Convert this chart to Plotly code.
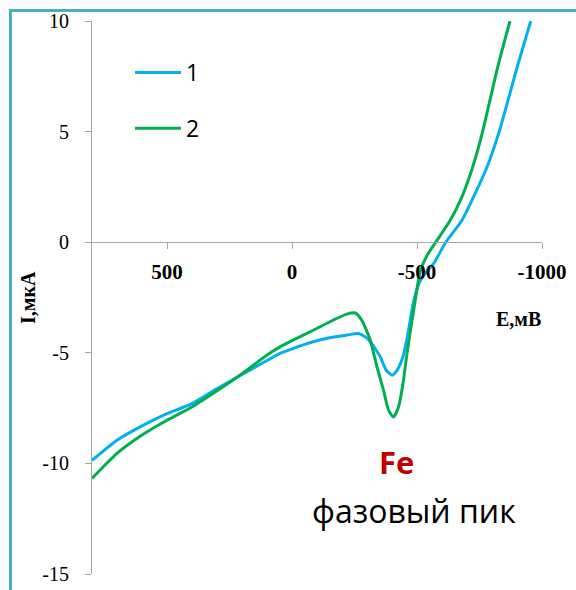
import plotly.graph_objects as go

# ---- data ----
E1 = [800, 700, 600, 500, 400, 300, 200, 100, 48, 0, -85, -160, -219, -266, -293, -313, -335, -353,
      -377, -400, -420, -444, -464, -486, -513, -540, -567, -615, -680, -720, -780, -827, -901, -955]
I1 = [-9.86, -8.95, -8.3, -7.75, -7.3, -6.62, -5.98, -5.35, -5.03, -4.82, -4.5, -4.3, -4.2, -4.13, -4.28,
      -4.5, -4.85, -5.18, -5.79, -6.01, -5.79, -5.18, -4.13, -2.7, -1.75, -1.3, -0.96, 0.0, 0.99, 1.9,
      3.4, 4.93, 7.93, 10.0]

E2 = [800, 700, 600, 500, 400, 300, 200, 100, 48, 0, -85, -160, -219, -253, -279, -313, -340, -366,
      -386, -406, -426, -444, -460, -476, -493, -513, -540, -575, -633, -674, -720, -761, -823, -872]
I2 = [-10.68, -9.55, -8.72, -8.05, -7.45, -6.72, -5.95, -5.1, -4.73, -4.45, -3.98, -3.55, -3.25, -3.2,
      -3.53, -4.43, -5.64, -6.69, -7.59, -7.9, -7.45, -6.39, -5.03, -3.83, -2.62, -1.3, -0.6, 0.0, 0.99,
      1.9, 3.3, 4.93, 7.93, 10.0]

series_names = ["1", "2"]
series_colors = ["#00B0F0", "#00B050"]
x_ticks = [500, 0, -500, -1000]
y_ticks = [10, 5, 0, -5, -10, -15]

# ---- layout geometry ----
W, H = 576, 590
L, R, T, B = 92, 34, 21, 16
pw, ph = W - L - R, H - T - B


def px(xp):
    return (xp - L) / pw


def py(yp):
    return (H - B - yp) / ph


SERIF = "Times New Roman"

fig = go.Figure()
for E, I, name, col in [(E1, I1, series_names[0], series_colors[0]),
                        (E2, I2, series_names[1], series_colors[1])]:
    fig.add_trace(go.Scatter(x=E, y=I, mode="lines", name=name, legendgroup=name,
                             line=dict(color=col, width=3, shape="spline", smoothing=0.6)))

axis_col = "#A6A6A6"
fig.update_layout(
    template="none",
    width=W, height=H,
    font=dict(family=SERIF, size=20, color="black"),
    margin=dict(l=L, r=R, t=T, b=B, autoexpand=False),
    paper_bgcolor="white", plot_bgcolor="white",
    showlegend=True,
    legend=dict(x=px(130), y=py(51), xanchor="left", yanchor="top",
                font=dict(family="Open Sans", size=23, color="black"),
                itemwidth=46, tracegroupgap=23, bgcolor="rgba(0,0,0,0)"),
    xaxis=dict(range=[800, -1000], tickvals=x_ticks, ticktext=[str(v) for v in x_ticks],
               showgrid=False, zeroline=False, showline=True, linecolor=axis_col, linewidth=1,
               ticks="outside", ticklen=6, tickcolor=axis_col, tickwidth=1,
               anchor="free", position=15 / 25, side="bottom", ticklabelstandoff=5,
               tickfont=dict(family=SERIF, size=21, color="black", weight="bold")),
    yaxis=dict(range=[-15, 10], tickvals=y_ticks, ticktext=[str(v) for v in y_ticks],
               showgrid=False, zeroline=False, showline=True, linecolor=axis_col, linewidth=1,
               ticks="outside", ticklen=6, tickcolor=axis_col, tickwidth=1, ticklabelstandoff=12,
               tickfont=dict(family=SERIF, size=20, color="black")),
)

# outer teal frame (cropped on right and bottom)
fig.add_shape(type="rect", xref="paper", yref="paper",
              x0=px(10.5), y0=py(700), x1=px(700), y1=py(10.5),
              line=dict(color="#4BACC6", width=3), fillcolor="rgba(0,0,0,0)", layer="below")

fig.add_annotation(text="E,мВ", xref="paper", yref="paper", x=px(518), y=py(319),
                   showarrow=False, xanchor="center", yanchor="middle",
                   font=dict(family=SERIF, size=20, color="black", weight="bold"))
fig.add_annotation(text="I,мкА", xref="paper", yref="paper", x=px(28), y=py(298),
                   showarrow=False, textangle=-90, xanchor="center", yanchor="middle",
                   font=dict(family=SERIF, size=20, color="black", weight="bold"))
fig.add_annotation(text="Fe", xref="paper", yref="paper", x=px(396), y=py(462),
                   showarrow=False, xanchor="center", yanchor="middle",
                   font=dict(family="Open Sans", size=31, color="#C00000", weight="bold"))
fig.add_annotation(text="фазовый пик", xref="paper", yref="paper", x=px(414), y=py(510),
                   showarrow=False, xanchor="center", yanchor="middle",
                   font=dict(family="Open Sans", size=32, color="black"))

fig.write_html("out.html")
